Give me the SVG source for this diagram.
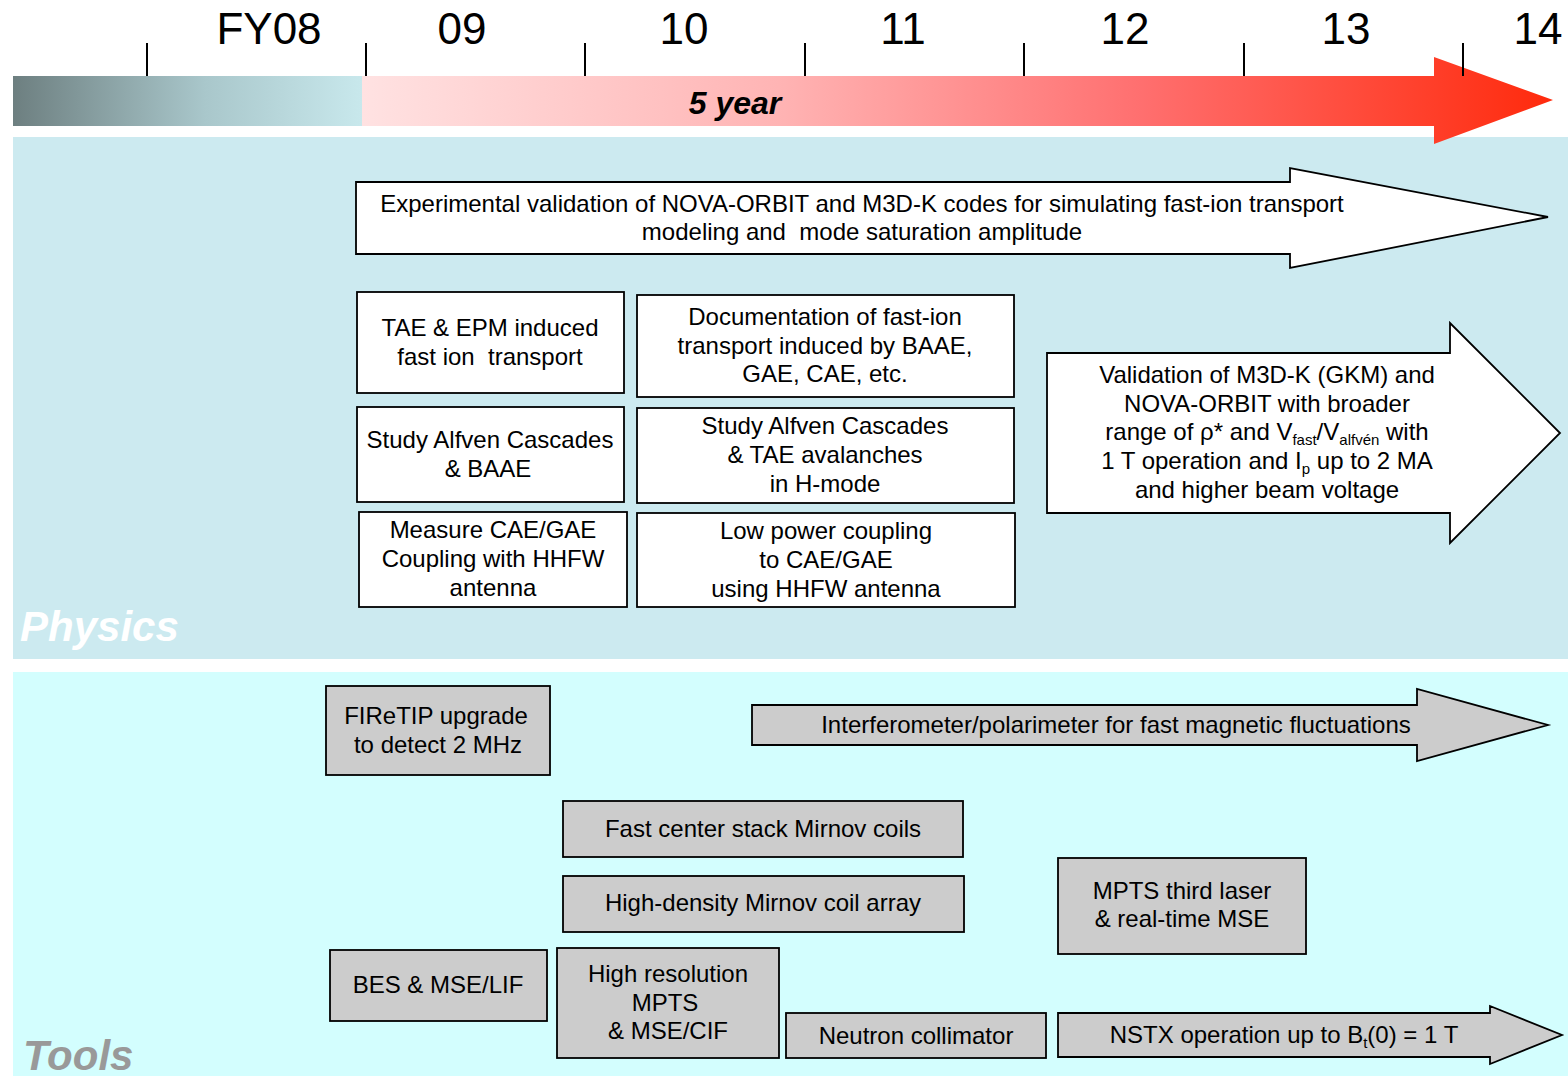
<svg xmlns="http://www.w3.org/2000/svg" width="1568" height="1076" viewBox="0 0 1568 1076">
<defs>
<linearGradient id="gGray" x1="0" y1="0" x2="1" y2="0">
<stop offset="0" stop-color="#6d7f80"/>
<stop offset="0.55" stop-color="#a9c7cb"/>
<stop offset="1" stop-color="#c8e8ec"/>
</linearGradient>
<linearGradient id="gRed" gradientUnits="userSpaceOnUse" x1="362" y1="0" x2="1553" y2="0">
<stop offset="0" stop-color="#ffe2e2"/>
<stop offset="0.35" stop-color="#ffb4b4"/>
<stop offset="0.65" stop-color="#ff7070"/>
<stop offset="1" stop-color="#ff2a0c"/>
</linearGradient>
<style>
.yr{font-family:"Liberation Sans",Arial,sans-serif;font-size:44px;fill:#000;text-anchor:middle}
.t{font-family:"Liberation Sans",Arial,sans-serif;font-size:24px;fill:#000;text-anchor:middle}
.sub{font-size:15px}
.wb{fill:#fff;stroke:#000;stroke-width:1.8}
.gb{fill:#cccccc;stroke:#000;stroke-width:1.8}
.tick{stroke:#000;stroke-width:2}
.lbl{font-family:"Liberation Sans",Arial,sans-serif;font-size:42px;font-weight:bold;font-style:italic}
</style>
</defs>
<g id="panels">
<rect x="13" y="137" width="1555" height="522" fill="#cceaf0"/>
<rect x="13" y="672" width="1555" height="404" fill="#d3fefe"/>
<text class="lbl" x="20" y="641" fill="#ffffff">Physics</text>
<text class="lbl" x="23" y="1070" fill="#999999">Tools</text>
</g>
<g id="timeline">
<rect x="13" y="76" width="349" height="50" fill="url(#gGray)"/>
<polygon points="362,76 1434,76 1434,57 1553,100 1434,144 1434,126 362,126" fill="url(#gRed)"/>
<line class="tick" x1="147" y1="43" x2="147" y2="76"/>
<line class="tick" x1="366" y1="43" x2="366" y2="76"/>
<line class="tick" x1="585" y1="43" x2="585" y2="76"/>
<line class="tick" x1="805" y1="43" x2="805" y2="76"/>
<line class="tick" x1="1024" y1="43" x2="1024" y2="76"/>
<line class="tick" x1="1244" y1="43" x2="1244" y2="76"/>
<line class="tick" x1="1463" y1="43" x2="1463" y2="76"/>
<text class="yr" x="269" y="44">FY08</text>
<text class="yr" x="462" y="44">09</text>
<text class="yr" x="684" y="44">10</text>
<text class="yr" x="903" y="44">11</text>
<text class="yr" x="1125" y="44">12</text>
<text class="yr" x="1346" y="44">13</text>
<text class="yr" x="1538" y="44">14</text>
<text x="735" y="114" font-family="Liberation Sans,Arial,sans-serif" font-size="32" font-weight="bold" font-style="italic" text-anchor="middle">5 year</text>
</g>
<g id="connectors"></g>
<g id="n-exp">
<polygon class="wb" points="356,182 1290,182 1290,168 1548,217 1290,268 1290,254 356,254"/>
<text class="t" x="862" y="212">Experimental validation of NOVA-ORBIT and M3D-K codes for simulating fast-ion transport</text>
<text class="t" x="862" y="240" xml:space="preserve">modeling and  mode saturation amplitude</text>
</g>
<g id="n-tae">
<rect class="wb" x="357" y="292" width="267" height="101"/>
<text class="t" x="490" y="336">TAE &amp; EPM induced</text>
<text class="t" x="490" y="365" xml:space="preserve">fast ion  transport</text>
</g>
<g id="n-doc">
<rect class="wb" x="637" y="295" width="377" height="102"/>
<text class="t" x="825" y="325">Documentation of fast-ion</text>
<text class="t" x="825" y="354">transport induced by BAAE,</text>
<text class="t" x="825" y="382">GAE, CAE, etc.</text>
</g>
<g id="n-sac1">
<rect class="wb" x="357" y="407" width="267" height="95"/>
<text class="t" x="490" y="448">Study Alfven Cascades</text>
<text class="t" x="488" y="477">&amp; BAAE</text>
</g>
<g id="n-sac2">
<rect class="wb" x="637" y="408" width="377" height="95"/>
<text class="t" x="825" y="434">Study Alfven Cascades</text>
<text class="t" x="825" y="463">&amp; TAE avalanches</text>
<text class="t" x="825" y="492">in H-mode</text>
</g>
<g id="n-meas">
<rect class="wb" x="359" y="512" width="268" height="95"/>
<text class="t" x="493" y="538">Measure CAE/GAE</text>
<text class="t" x="493" y="567">Coupling with HHFW</text>
<text class="t" x="493" y="596">antenna</text>
</g>
<g id="n-low">
<rect class="wb" x="637" y="513" width="378" height="94"/>
<text class="t" x="826" y="539">Low power coupling</text>
<text class="t" x="826" y="568">to CAE/GAE</text>
<text class="t" x="826" y="597">using HHFW antenna</text>
</g>
<g id="n-val">
<polygon class="wb" points="1047,353 1450,353 1450,323 1560,433 1450,543 1450,513 1047,513"/>
<text class="t" x="1267" y="383">Validation of M3D-K (GKM) and</text>
<text class="t" x="1267" y="412">NOVA-ORBIT with broader</text>
<text class="t" x="1267" y="440">range of ρ* and V<tspan class="sub" dy="5">fast</tspan><tspan dy="-5">/V</tspan><tspan class="sub" dy="5">alfvén</tspan><tspan dy="-5"> with</tspan></text>
<text class="t" x="1267" y="469">1 T operation and I<tspan class="sub" dy="5">p</tspan><tspan dy="-5"> up to 2 MA</tspan></text>
<text class="t" x="1267" y="498">and higher beam voltage</text>
</g>
<g id="n-firetip">
<rect class="gb" x="326" y="686" width="224" height="89"/>
<text class="t" x="436" y="724">FIReTIP upgrade</text>
<text class="t" x="438" y="753">to detect 2 MHz</text>
</g>
<g id="n-interf">
<polygon class="gb" points="752,705 1417,705 1417,689 1548,725 1417,761 1417,745 752,745"/>
<text class="t" x="1116" y="733">Interferometer/polarimeter for fast magnetic fluctuations</text>
</g>
<g id="n-fcs">
<rect class="gb" x="563" y="801" width="400" height="56"/>
<text class="t" x="763" y="837">Fast center stack Mirnov coils</text>
</g>
<g id="n-hd">
<rect class="gb" x="563" y="876" width="401" height="56"/>
<text class="t" x="763" y="911">High-density Mirnov coil array</text>
</g>
<g id="n-mpts3">
<rect class="gb" x="1058" y="858" width="248" height="96"/>
<text class="t" x="1182" y="899">MPTS third laser</text>
<text class="t" x="1182" y="927">&amp; real-time MSE</text>
</g>
<g id="n-bes">
<rect class="gb" x="330" y="950" width="217" height="71"/>
<text class="t" x="438" y="993">BES &amp; MSE/LIF</text>
</g>
<g id="n-hr">
<rect class="gb" x="557" y="948" width="222" height="110"/>
<text class="t" x="668" y="982">High resolution</text>
<text class="t" x="665" y="1011">MPTS</text>
<text class="t" x="668" y="1039">&amp; MSE/CIF</text>
</g>
<g id="n-neut">
<rect class="gb" x="786" y="1013" width="260" height="45"/>
<text class="t" x="916" y="1044">Neutron collimator</text>
</g>
<g id="n-nstx">
<polygon class="gb" points="1058,1013 1490,1013 1490,1006 1562,1035 1490,1064 1490,1057 1058,1057"/>
<text class="t" x="1284" y="1043">NSTX operation up to B<tspan class="sub" dy="5">t</tspan><tspan dy="-5">(0) = 1 T</tspan></text>
</g>
</svg>
